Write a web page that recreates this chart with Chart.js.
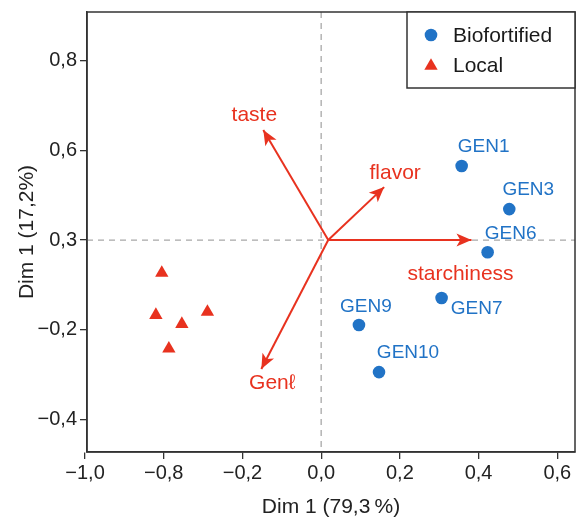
<!DOCTYPE html>
<html>
<head>
<meta charset="utf-8">
<script src="https://cdn.jsdelivr.net/npm/chart.js@4.4.1/dist/chart.umd.min.js"></script>
<style>
html,body{margin:0;padding:0;background:#fff;}
#wrap{width:578px;height:522px;}
</style>
</head>
<body>
<div id="wrap"><canvas id="c" width="578" height="522"></canvas></div>
<script>
// ---- data ----
const genotypes = ['GEN1', 'GEN3', 'GEN6', 'GEN7', 'GEN9', 'GEN10'];
const bioX = [0.357, 0.478, 0.423, 0.306, 0.096, 0.147];
const bioY = [0.165, 0.069, -0.027, -0.129, -0.189, -0.294];
const localX = [-0.405, -0.420, -0.354, -0.289, -0.387];
const localY = [-0.073, -0.167, -0.187, -0.160, -0.242];
const variables = ['taste', 'flavor', 'starchiness', 'Gen\u2113'];
const varX = [-0.147, 0.160, 0.382, -0.152];
const varY = [0.245, 0.118, 0.000, -0.287];
const arrowOrigin = [0.018, 0.0];
const xTickValues = [-0.6, -0.4, -0.2, 0, 0.2, 0.4, 0.6];
const xTickLabels = ['\u22121,0', '\u22120,8', '\u22120,2', '0,0', '0,2', '0,4', '0,6'];
const yTickValues = [-0.4, -0.2, 0, 0.2, 0.4];
const yTickLabels = ['\u22120,4', '\u22120,2', '0,3', '0,6', '0,8'];
const seriesNames = ['Biofortified', 'Local'];
const xTitle = 'Dim 1 (79,3\u2009%)';
const yTitle = 'Dim 1 (17,2%)';

// ---- styles ----
const BLUE = '#2173c6';
const RED = '#e8321f';
const FONT = "'Liberation Sans', Arial, Helvetica, sans-serif";
const genLabelOffsets = [[22, -19], [19, -19], [23, -18], [35, 11], [7, -18], [29, -19]];
const varLabelOffsets = [[-9, -15], [11, -14], [-11, 34], [11, 14]];

const datasets = [
  {
    label: seriesNames[0],
    data: bioX.map((x, i) => ({x, y: bioY[i]})),
    pointStyle: 'circle', pointRadius: 6.3, pointHoverRadius: 6.3,
    backgroundColor: BLUE, borderColor: BLUE, borderWidth: 0, order: 1
  },
  {
    label: seriesNames[1],
    data: localX.map((x, i) => ({x, y: localY[i]})),
    pointStyle: 'triangle', pointRadius: 7.7, pointHoverRadius: 7.7,
    backgroundColor: RED, borderColor: RED, borderWidth: 0, order: 1
  }
];
variables.forEach((v, i) => {
  datasets.push({
    label: 'arrow_' + v,
    isArrow: true,
    data: [{x: arrowOrigin[0], y: arrowOrigin[1]}, {x: varX[i], y: varY[i]}],
    showLine: true, pointRadius: 0, pointHoverRadius: 0,
    borderColor: RED, borderWidth: 2, backgroundColor: RED, order: 2
  });
});

const bgPlugin = {
  id: 'bg',
  beforeDatasetsDraw(chart) {
    const {ctx, chartArea: a, scales: {x, y}} = chart;
    ctx.save();
    ctx.strokeStyle = '#a8a8a8';
    ctx.lineWidth = 1.3;
    ctx.setLineDash([6, 5]);
    const x0 = x.getPixelForValue(0), y0 = y.getPixelForValue(0);
    ctx.beginPath();
    ctx.moveTo(x0, a.top); ctx.lineTo(x0, a.bottom);
    ctx.moveTo(a.left, y0); ctx.lineTo(a.right, y0);
    ctx.stroke();
    ctx.restore();
  },
  afterDatasetsDraw(chart) {
    const {ctx} = chart;
    ctx.save();
    let k = 0;
    chart.data.datasets.forEach((ds, di) => {
      if (!ds.isArrow) return;
      const pts = chart.getDatasetMeta(di).data;
      const p0 = pts[0], p1 = pts[1];
      const ang = Math.atan2(p1.y - p0.y, p1.x - p0.x);
      const L = 15, W = 6.5;
      ctx.fillStyle = RED;
      ctx.beginPath();
      ctx.moveTo(p1.x, p1.y);
      ctx.lineTo(p1.x - L * Math.cos(ang) + W * Math.sin(ang), p1.y - L * Math.sin(ang) - W * Math.cos(ang));
      ctx.lineTo(p1.x - L * 0.75 * Math.cos(ang), p1.y - L * 0.75 * Math.sin(ang));
      ctx.lineTo(p1.x - L * Math.cos(ang) - W * Math.sin(ang), p1.y - L * Math.sin(ang) + W * Math.cos(ang));
      ctx.closePath();
      ctx.fill();
      ctx.font = '21px ' + FONT;
      ctx.textAlign = 'center';
      ctx.textBaseline = 'middle';
      const off = varLabelOffsets[k];
      ctx.fillText(variables[k], p1.x + off[0], p1.y + off[1]);
      k++;
    });
    const meta = chart.getDatasetMeta(0);
    ctx.fillStyle = BLUE;
    ctx.font = '19px ' + FONT;
    ctx.textAlign = 'center';
    ctx.textBaseline = 'middle';
    meta.data.forEach((pt, i) => {
      ctx.fillText(genotypes[i], pt.x + genLabelOffsets[i][0], pt.y + genLabelOffsets[i][1]);
    });
    ctx.restore();
  },
  afterDraw(chart) {
    const {ctx, chartArea: a} = chart;
    ctx.save();
    ctx.strokeStyle = '#333';
    ctx.lineWidth = 1.5;
    ctx.strokeRect(a.left, a.top, a.right - a.left, a.bottom - a.top);
    const lx = 407, ly = a.top, lw = a.right - 407, lh = 76;
    ctx.fillStyle = '#fff';
    ctx.fillRect(lx, ly, lw, lh);
    ctx.strokeRect(lx, ly, lw, lh);
    ctx.fillStyle = BLUE;
    ctx.beginPath(); ctx.arc(431, ly + 23, 6.3, 0, Math.PI * 2); ctx.fill();
    ctx.fillStyle = RED;
    const r = 7.7, cx = 431, cy = ly + 54;
    ctx.beginPath();
    ctx.moveTo(cx, cy - r);
    ctx.lineTo(cx + r * Math.sin(2 * Math.PI / 3), cy - r * Math.cos(2 * Math.PI / 3));
    ctx.lineTo(cx + r * Math.sin(4 * Math.PI / 3), cy - r * Math.cos(4 * Math.PI / 3));
    ctx.closePath(); ctx.fill();
    ctx.fillStyle = '#1a1a1a';
    ctx.font = '21px ' + FONT;
    ctx.textAlign = 'left';
    ctx.textBaseline = 'middle';
    ctx.fillText(seriesNames[0], 453, ly + 24);
    ctx.fillText(seriesNames[1], 453, ly + 54);
    ctx.restore();
  }
};

new Chart(document.getElementById('c'), {
  type: 'scatter',
  data: {datasets},
  options: {
    responsive: false,
    animation: false,
    events: [],
    layout: {autoPadding: false, padding: {top: 12, right: 3, left: 0, bottom: 0}},
    plugins: {legend: {display: false}, tooltip: {enabled: false}},
    scales: {
      x: {
        type: 'linear', min: -0.595, max: 0.645,
        afterFit(s) { s.height = 70; s.paddingLeft = 0; s.paddingRight = 0; },
        afterBuildTicks(s) { s.ticks = xTickValues.map(v => ({value: v})); },
        ticks: {
          autoSkip: false, maxRotation: 0, padding: 2, color: '#222',
          font: {family: FONT, size: 20},
          callback: (v) => { const i = xTickValues.findIndex(t => Math.abs(t - v) < 1e-6); return i >= 0 ? xTickLabels[i] : ''; }
        },
        grid: {display: true, drawOnChartArea: false, drawTicks: true, tickLength: 7, color: '#333', lineWidth: 1.3},
        border: {display: true, color: '#333', width: 1.5},
        title: {display: true, text: xTitle, color: '#222', font: {family: FONT, size: 21}, padding: {top: 2, bottom: 2}}
      },
      y: {
        type: 'linear', min: -0.472, max: 0.508,
        afterFit(s) { s.width = 87; s.paddingTop = 0; s.paddingBottom = 0; },
        afterBuildTicks(s) { s.ticks = yTickValues.map(v => ({value: v})); },
        ticks: {
          autoSkip: false, padding: 3, color: '#222',
          font: {family: FONT, size: 20},
          callback: (v) => { const i = yTickValues.findIndex(t => Math.abs(t - v) < 1e-6); return i >= 0 ? yTickLabels[i] : ''; }
        },
        grid: {display: true, drawOnChartArea: false, drawTicks: true, tickLength: 7, color: '#333', lineWidth: 1.3},
        border: {display: true, color: '#333', width: 1.5},
        title: {display: true, text: yTitle, color: '#222', font: {family: FONT, size: 21}, padding: {top: 15, bottom: 2}}
      }
    }
  },
  plugins: [bgPlugin]
});
</script>
</body>
</html>
